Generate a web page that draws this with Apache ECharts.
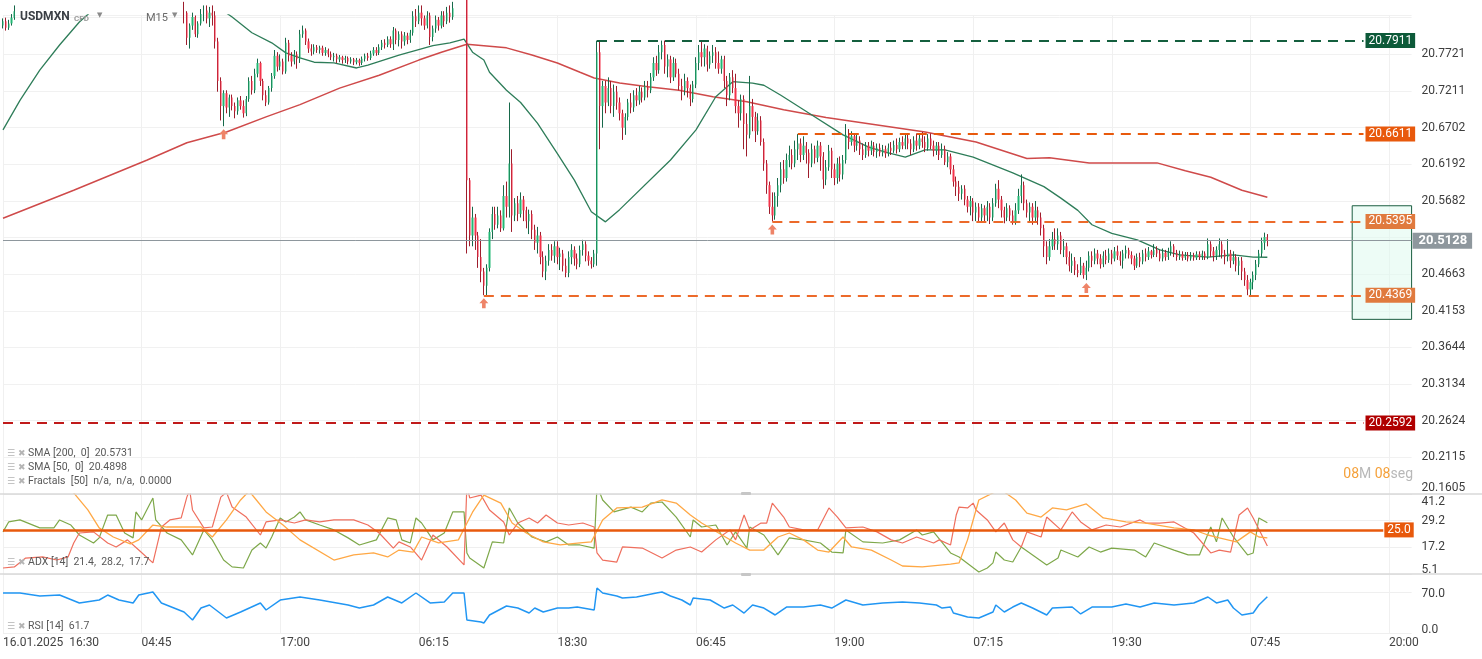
<!DOCTYPE html>
<html>
<head>
<meta charset="utf-8">
<title>USDMXN M15</title>
<script src="https://cdn.jsdelivr.net/npm/echarts@6/dist/echarts.min.js"></script>
<style>
  html, body { margin: 0; padding: 0; background: #fff; }
  #chart { width: 1482px; height: 659px; }
</style>
</head>
<body>
<div id="chart"></div>
<script>
// x axis: one label every 49 bars
const timeLabels = ["16.01.2025  16:30", "04:45", "17:00", "06:15", "18:30", "06:45", "19:00", "07:15", "19:30", "07:45", "20:00"];
const BARS_PER_LABEL = 49;
const CATEGORY_COUNT = 499;

// axis ticks
const priceTicks = [20.1605, 20.2115, 20.2624, 20.3134, 20.3644, 20.4153, 20.4663, 20.5682, 20.6192, 20.6702, 20.7211, 20.7721];
const PRICE_MIN = 20.1605, PRICE_MAX = 20.8267;
const adxTicks = [5.1, 17.2, 29.2, 41.2];
const rsiTicks = [0, 70];

// candles: [open, close, low, high]
const sessionA = [
  [20.812,20.818,20.808,20.822],[20.818,20.809,20.805,20.823],[20.809,20.815,20.806,20.820],[20.815,20.823,20.812,20.828],
  [20.823,20.832,20.820,20.840],[20.832,20.850,20.828,20.856],[20.850,20.868,20.846,20.874],[20.868,20.880,20.860,20.888],
  [20.880,20.872,20.866,20.890],[20.872,20.895,20.868,20.902],[20.895,20.910,20.888,20.918],[20.910,20.902,20.894,20.920],
  [20.902,20.925,20.898,20.932],[20.925,20.940,20.918,20.948],[20.940,20.932,20.925,20.950],[20.932,20.950,20.928,20.958],
  [20.950,20.962,20.942,20.970],[20.962,20.955,20.946,20.972],[20.955,20.968,20.950,20.976],[20.968,20.960,20.952,20.978],
  [20.960,20.972,20.955,20.980],[20.972,20.958,20.950,20.978],[20.958,20.945,20.938,20.965],[20.945,20.955,20.940,20.962],
  [20.955,20.940,20.932,20.960],[20.940,20.928,20.920,20.946],[20.928,20.936,20.922,20.942],[20.936,20.924,20.915,20.940],
  [20.924,20.915,20.908,20.930],[20.915,20.922,20.910,20.928],[20.922,20.910,20.902,20.926],[20.910,20.918,20.905,20.924],
  [20.918,20.906,20.900,20.922],[20.906,20.898,20.892,20.912],[20.898,20.905,20.890,20.910],[20.905,20.895,20.888,20.910],
  [20.895,20.902,20.890,20.908],[20.902,20.890,20.884,20.906],[20.890,20.898,20.885,20.904],[20.898,20.888,20.880,20.902],
  [20.888,20.880,20.874,20.894],[20.880,20.890,20.876,20.896],[20.890,20.882,20.875,20.895],[20.882,20.875,20.868,20.888],
  [20.875,20.884,20.870,20.890],[20.884,20.876,20.870,20.888],[20.876,20.868,20.862,20.880],[20.868,20.878,20.864,20.884],
  [20.878,20.870,20.864,20.882],[20.870,20.862,20.856,20.876],[20.862,20.872,20.858,20.878],[20.872,20.865,20.858,20.876],
  [20.865,20.858,20.852,20.870],[20.858,20.866,20.852,20.872],[20.866,20.858,20.850,20.870],[20.858,20.850,20.845,20.862],
  [20.850,20.858,20.846,20.864],[20.858,20.852,20.846,20.862],[20.852,20.846,20.840,20.856],[20.846,20.852,20.840,20.858],
  [20.852,20.845,20.838,20.856],[20.845,20.850,20.838,20.855],[20.850,20.842,20.836,20.854],[20.842,20.835,20.830,20.848]
];
const sessionB = [
  [20.835,20.830,20.815,20.845],[20.830,20.795,20.785,20.832],[20.795,20.812,20.780,20.815],[20.812,20.824,20.806,20.830],
  [20.824,20.800,20.796,20.826],[20.800,20.815,20.795,20.818],[20.815,20.828,20.812,20.835],[20.828,20.833,20.818,20.840],
  [20.833,20.822,20.815,20.840],[20.822,20.830,20.810,20.838],[20.830,20.826,20.812,20.840],[20.826,20.790,20.780,20.832],
  [20.790,20.735,20.720,20.795],[20.735,20.700,20.680,20.740],[20.700,20.718,20.672,20.722],[20.718,20.698,20.690,20.722],
  [20.698,20.712,20.685,20.716],[20.712,20.700,20.694,20.716],[20.700,20.693,20.683,20.705],[20.693,20.708,20.688,20.712],
  [20.708,20.700,20.695,20.714],[20.700,20.690,20.684,20.708],[20.690,20.710,20.686,20.714],[20.710,20.735,20.706,20.740],
  [20.735,20.722,20.716,20.742],[20.722,20.745,20.718,20.752],[20.745,20.760,20.740,20.766],[20.760,20.735,20.728,20.762],
  [20.735,20.715,20.708,20.738],[20.715,20.705,20.700,20.722],[20.705,20.725,20.702,20.728],[20.725,20.742,20.720,20.746],
  [20.742,20.770,20.738,20.778],[20.770,20.755,20.748,20.775],[20.755,20.762,20.750,20.772],[20.762,20.748,20.744,20.766],
  [20.748,20.788,20.745,20.795],[20.788,20.770,20.762,20.792],[20.770,20.762,20.755,20.775],[20.762,20.772,20.758,20.778],
  [20.772,20.765,20.752,20.776],[20.765,20.800,20.760,20.806],[20.800,20.805,20.795,20.812],[20.805,20.790,20.785,20.808],
  [20.790,20.780,20.774,20.794],[20.780,20.776,20.770,20.786],[20.776,20.782,20.772,20.786],[20.782,20.778,20.774,20.785],
  [20.778,20.781,20.773,20.784],[20.781,20.774,20.770,20.784],[20.774,20.778,20.770,20.782],[20.778,20.772,20.768,20.780],
  [20.772,20.768,20.764,20.776],[20.768,20.770,20.762,20.774],[20.770,20.765,20.760,20.773],[20.765,20.768,20.761,20.771],
  [20.768,20.764,20.759,20.770],[20.764,20.767,20.760,20.770],[20.767,20.762,20.758,20.769],[20.762,20.765,20.759,20.768],
  [20.765,20.761,20.757,20.767],[20.761,20.764,20.758,20.767],[20.764,20.760,20.756,20.766],[20.760,20.766,20.757,20.769],
  [20.766,20.770,20.762,20.773],[20.770,20.767,20.763,20.774],[20.767,20.773,20.764,20.777],[20.773,20.778,20.770,20.782],
  [20.778,20.774,20.770,20.782],[20.774,20.782,20.771,20.786],[20.782,20.788,20.778,20.792],[20.788,20.785,20.780,20.793],
  [20.785,20.793,20.782,20.797],[20.793,20.786,20.781,20.797],[20.786,20.805,20.778,20.810],[20.805,20.792,20.786,20.808],
  [20.792,20.800,20.783,20.804],[20.800,20.790,20.780,20.804],[20.790,20.798,20.784,20.803],[20.798,20.792,20.786,20.802],
  [20.792,20.802,20.788,20.806],[20.802,20.825,20.798,20.832],[20.825,20.818,20.810,20.835],[20.818,20.830,20.814,20.840],
  [20.830,20.822,20.812,20.840],[20.822,20.812,20.806,20.826],[20.812,20.826,20.808,20.832],[20.826,20.796,20.785,20.830],
  [20.796,20.808,20.790,20.812],[20.808,20.820,20.802,20.826],[20.820,20.812,20.805,20.824],[20.812,20.826,20.808,20.832],
  [20.826,20.818,20.810,20.832],[20.818,20.830,20.814,20.838],[20.830,20.824,20.816,20.840],[20.824,20.836,20.820,20.845],
  [20.836,20.845,20.828,20.855],[20.845,20.850,20.835,20.860],[20.850,20.842,20.832,20.858],[20.842,20.848,20.835,20.856]
];
const sessionC = [
  [20.848,20.597,20.495,20.852],[20.597,20.520,20.505,20.600],[20.520,20.545,20.505,20.560],[20.545,20.520,20.500,20.550],
  [20.520,20.490,20.475,20.525],[20.490,20.470,20.455,20.515],[20.470,20.450,20.437,20.475],[20.450,20.475,20.437,20.480],
  [20.475,20.525,20.470,20.530],[20.525,20.550,20.515,20.560],[20.550,20.535,20.528,20.560],[20.535,20.548,20.530,20.560],
  [20.548,20.530,20.525,20.555],[20.530,20.575,20.527,20.590],[20.575,20.560,20.545,20.595],[20.560,20.620,20.545,20.705],
  [20.620,20.548,20.525,20.640],[20.548,20.565,20.540,20.572],[20.565,20.550,20.540,20.575],[20.550,20.570,20.545,20.580],
  [20.570,20.555,20.540,20.575],[20.555,20.540,20.530,20.560],[20.540,20.550,20.522,20.556],[20.550,20.528,20.515,20.555],
  [20.528,20.510,20.500,20.535],[20.510,20.520,20.495,20.532],[20.520,20.490,20.480,20.525],[20.490,20.470,20.462,20.498],
  [20.470,20.485,20.458,20.492],[20.485,20.500,20.478,20.508],[20.500,20.492,20.485,20.508],[20.492,20.505,20.482,20.512],
  [20.505,20.490,20.480,20.512],[20.490,20.495,20.472,20.503],[20.495,20.478,20.470,20.500],[20.478,20.468,20.462,20.488],
  [20.468,20.490,20.462,20.498],[20.490,20.500,20.480,20.508],[20.500,20.488,20.478,20.505],[20.488,20.480,20.473,20.495],
  [20.480,20.500,20.476,20.506],[20.500,20.508,20.492,20.514],[20.508,20.492,20.484,20.512],[20.492,20.485,20.478,20.498],
  [20.485,20.480,20.474,20.490],[20.480,20.495,20.476,20.500]
];
const sessionD = [
  [20.495,20.775,20.478,20.7911],[20.775,20.700,20.640,20.790],[20.700,20.728,20.670,20.735],[20.728,20.705,20.690,20.735],
  [20.705,20.725,20.700,20.740],[20.725,20.700,20.690,20.735],[20.700,20.720,20.685,20.730],[20.720,20.705,20.695,20.728],
  [20.705,20.690,20.680,20.712],[20.690,20.670,20.653,20.695],[20.670,20.685,20.660,20.690],[20.685,20.705,20.680,20.710],
  [20.705,20.698,20.690,20.718],[20.698,20.715,20.692,20.722],[20.715,20.708,20.700,20.725],[20.708,20.720,20.702,20.728],
  [20.720,20.712,20.705,20.726],[20.712,20.728,20.708,20.735],[20.728,20.722,20.712,20.735],[20.722,20.740,20.718,20.746],
  [20.740,20.760,20.735,20.768],[20.760,20.750,20.742,20.770],[20.750,20.775,20.745,20.785],[20.775,20.785,20.765,20.7911],
  [20.785,20.755,20.745,20.7911],[20.755,20.765,20.740,20.772],[20.765,20.740,20.732,20.770],[20.740,20.760,20.735,20.768],
  [20.760,20.745,20.740,20.766],[20.745,20.728,20.722,20.752],[20.728,20.722,20.708,20.738],[20.722,20.735,20.715,20.745],
  [20.735,20.725,20.712,20.740],[20.725,20.710,20.700,20.730],[20.710,20.730,20.705,20.735],[20.730,20.760,20.725,20.768],
  [20.760,20.775,20.750,20.785],[20.775,20.768,20.755,20.7911],[20.768,20.780,20.755,20.786],[20.780,20.758,20.748,20.784],
  [20.758,20.770,20.752,20.776],[20.770,20.775,20.760,20.785],[20.775,20.760,20.752,20.782],[20.760,20.752,20.745,20.776],
  [20.752,20.765,20.745,20.770],[20.765,20.735,20.725,20.770],[20.735,20.715,20.700,20.742],[20.715,20.740,20.708,20.746],
  [20.740,20.725,20.718,20.750],[20.725,20.700,20.690,20.745],[20.700,20.690,20.670,20.708],[20.690,20.710,20.680,20.716],
  [20.710,20.675,20.640,20.715],[20.675,20.660,20.630,20.690],[20.660,20.700,20.655,20.742],[20.700,20.685,20.665,20.710],
  [20.685,20.665,20.650,20.692],[20.665,20.680,20.660,20.690],[20.680,20.650,20.645,20.686],[20.650,20.620,20.610,20.655],
  [20.620,20.590,20.578,20.625],[20.590,20.560,20.550,20.595]
];
const sessionE = [
  [20.560,20.548,20.5395,20.580],[20.548,20.575,20.542,20.580],[20.575,20.590,20.560,20.600],[20.590,20.612,20.580,20.622],
  [20.612,20.600,20.592,20.625],[20.600,20.625,20.595,20.634],[20.625,20.632,20.615,20.645],[20.632,20.620,20.612,20.640],
  [20.620,20.640,20.615,20.652],[20.640,20.648,20.625,20.6611],[20.648,20.632,20.622,20.655],[20.632,20.645,20.625,20.658],
  [20.645,20.635,20.620,20.650],[20.635,20.620,20.600,20.640],[20.620,20.640,20.615,20.648],[20.640,20.628,20.620,20.645],
  [20.628,20.645,20.622,20.652],[20.645,20.630,20.610,20.650],[20.630,20.598,20.585,20.636],[20.598,20.615,20.590,20.625],
  [20.615,20.638,20.610,20.646],[20.638,20.612,20.600,20.642],[20.612,20.600,20.590,20.620],[20.600,20.620,20.592,20.628],
  [20.620,20.605,20.595,20.630],[20.605,20.625,20.598,20.632],[20.625,20.660,20.620,20.675],[20.660,20.650,20.640,20.668],
  [20.650,20.658,20.645,20.665],[20.658,20.645,20.636,20.662],[20.645,20.652,20.638,20.660],[20.652,20.640,20.632,20.658],
  [20.640,20.632,20.625,20.648],[20.632,20.645,20.628,20.650],[20.645,20.638,20.630,20.650],[20.638,20.645,20.632,20.652],
  [20.645,20.636,20.630,20.650],[20.636,20.642,20.628,20.648],[20.642,20.635,20.630,20.648],[20.635,20.640,20.630,20.646],
  [20.640,20.634,20.628,20.645],[20.634,20.642,20.630,20.648],[20.642,20.638,20.632,20.650],[20.638,20.646,20.635,20.652],
  [20.646,20.640,20.634,20.655],[20.640,20.650,20.636,20.656],[20.650,20.645,20.640,20.658],[20.645,20.655,20.640,20.660],
  [20.655,20.648,20.640,20.662],[20.648,20.640,20.632,20.654],[20.640,20.652,20.636,20.658],[20.652,20.645,20.638,20.662],
  [20.645,20.655,20.640,20.662],[20.655,20.650,20.642,20.664],[20.650,20.642,20.636,20.658],[20.642,20.655,20.638,20.661],
  [20.655,20.645,20.640,20.662],[20.645,20.638,20.630,20.652],[20.638,20.645,20.632,20.650],[20.645,20.632,20.625,20.650],
  [20.632,20.640,20.628,20.648],[20.640,20.622,20.618,20.645],[20.622,20.630,20.615,20.636],[20.630,20.612,20.605,20.634],
  [20.612,20.595,20.588,20.618],[20.595,20.588,20.575,20.602],[20.588,20.578,20.568,20.596],[20.578,20.585,20.570,20.590],
  [20.585,20.570,20.562,20.590],[20.570,20.560,20.552,20.575],[20.560,20.568,20.548,20.575],[20.568,20.552,20.540,20.572],
  [20.552,20.560,20.540,20.566],[20.560,20.545,20.538,20.565],[20.545,20.558,20.540,20.564],[20.558,20.548,20.538,20.562],
  [20.548,20.560,20.540,20.568],[20.560,20.545,20.536,20.565],[20.545,20.565,20.540,20.572],[20.565,20.585,20.560,20.592],
  [20.585,20.570,20.558,20.597],[20.570,20.555,20.545,20.575],[20.555,20.545,20.537,20.560],[20.545,20.558,20.540,20.565],
  [20.558,20.548,20.540,20.562],[20.548,20.540,20.535,20.555],[20.540,20.555,20.535,20.565],[20.555,20.575,20.550,20.585],
  [20.575,20.590,20.565,20.605],[20.590,20.565,20.555,20.595],[20.565,20.552,20.545,20.570],[20.552,20.560,20.540,20.566],
  [20.560,20.545,20.535,20.565],[20.545,20.555,20.538,20.568],[20.555,20.545,20.535,20.560],[20.545,20.530,20.520,20.552],
  [20.530,20.505,20.490,20.535],[20.505,20.490,20.480,20.512],[20.490,20.505,20.485,20.515],[20.505,20.515,20.500,20.525],
  [20.515,20.508,20.500,20.530],[20.508,20.520,20.500,20.530],[20.520,20.500,20.494,20.525],[20.500,20.505,20.490,20.515],
  [20.505,20.490,20.480,20.510],[20.490,20.478,20.470,20.498],[20.478,20.485,20.468,20.495],[20.485,20.472,20.465,20.490],
  [20.472,20.468,20.462,20.480],[20.468,20.478,20.465,20.490],[20.478,20.465,20.460,20.482],[20.465,20.475,20.458,20.485],
  [20.475,20.492,20.470,20.498],[20.492,20.485,20.476,20.498],[20.485,20.495,20.480,20.502],[20.495,20.488,20.480,20.500],
  [20.488,20.480,20.474,20.494],[20.480,20.492,20.476,20.498],[20.492,20.486,20.480,20.500],[20.486,20.495,20.482,20.502],
  [20.495,20.488,20.480,20.500],[20.488,20.498,20.484,20.504],[20.498,20.492,20.486,20.506],[20.492,20.485,20.478,20.498],
  [20.485,20.495,20.474,20.500],[20.495,20.500,20.488,20.506],[20.500,20.493,20.488,20.503],[20.493,20.488,20.480,20.498],
  [20.488,20.478,20.472,20.492],[20.478,20.490,20.475,20.495],[20.490,20.484,20.476,20.496],[20.484,20.495,20.480,20.500],
  [20.495,20.490,20.484,20.502],[20.490,20.498,20.486,20.504],[20.498,20.493,20.488,20.500],[20.493,20.500,20.490,20.508],
  [20.500,20.495,20.490,20.505],[20.495,20.488,20.484,20.500],[20.488,20.496,20.484,20.502],[20.496,20.490,20.485,20.500],
  [20.490,20.497,20.486,20.503],[20.497,20.505,20.492,20.512],[20.505,20.496,20.490,20.508],[20.496,20.490,20.485,20.500],
  [20.490,20.494,20.486,20.499],[20.494,20.489,20.485,20.498],[20.489,20.493,20.486,20.497],[20.493,20.488,20.484,20.497],
  [20.488,20.493,20.485,20.497],[20.493,20.489,20.485,20.496],[20.489,20.494,20.486,20.498],[20.494,20.490,20.486,20.498],
  [20.490,20.495,20.486,20.499],[20.495,20.490,20.486,20.498],[20.490,20.508,20.487,20.516],[20.508,20.498,20.490,20.512],
  [20.498,20.492,20.484,20.504],[20.492,20.500,20.486,20.505],[20.500,20.508,20.490,20.516],[20.508,20.495,20.488,20.512],
  [20.495,20.490,20.480,20.500],[20.490,20.495,20.484,20.515],[20.495,20.485,20.475,20.500],[20.485,20.490,20.480,20.498],
  [20.490,20.478,20.470,20.494],[20.478,20.485,20.465,20.490],[20.485,20.470,20.458,20.490],[20.470,20.458,20.450,20.475],
  [20.458,20.445,20.437,20.465],[20.445,20.455,20.437,20.460],[20.455,20.465,20.445,20.470],[20.465,20.480,20.458,20.486],
  [20.480,20.495,20.476,20.500],[20.495,20.510,20.490,20.517],[20.510,20.518,20.500,20.524],[20.518,20.5128,20.505,20.522]
];

// moving averages: [bar, value]
const sma200 = [[0,20.544],[25,20.583],[51,20.625],[65,20.649],[79,20.664],[93,20.685],[105,20.702],[119,20.725],[133,20.743],
  [147,20.764],[155,20.775],[164,20.786],[178,20.781],[187,20.771],[196,20.760],[204,20.747],[209,20.739],[218,20.732],[228,20.727],
  [239,20.722],[251,20.713],[263,20.706],[276,20.695],[291,20.684],[326,20.664],[344,20.650],[362,20.627],[370,20.628],[384,20.621],
  [408,20.621],[418,20.610],[427,20.601],[438,20.583],[447,20.5731]];
const sma50 = [[0,20.667],[6,20.708],[13,20.750],[20,20.785],[27,20.817],[31,20.831],[40,20.850],[55,20.862],[70,20.845],[78,20.832],
  [81,20.824],[88,20.802],[95,20.788],[100,20.774],[105,20.767],[110,20.761],[117,20.760],[125,20.753],[129,20.757],[140,20.771],
  [152,20.784],[158,20.788],[163,20.793],[166,20.775],[170,20.764],[172,20.747],[178,20.722],[183,20.705],[189,20.676],[196,20.634],
  [202,20.597],[208,20.553],[213,20.539],[218,20.556],[236,20.625],[245,20.667],[252,20.713],[258,20.734],[265,20.732],[269,20.729],
  [275,20.715],[285,20.690],[297,20.660],[306,20.643],[312,20.636],[319,20.629],[326,20.639],[333,20.639],[343,20.629],[357,20.607],
  [368,20.588],[374,20.572],[380,20.555],[385,20.535],[392,20.523],[401,20.514],[409,20.500],[416,20.493],[426,20.490],[435,20.493],
  [442,20.490],[447,20.4898]];

// ADX [14]: adx (orange), +DI (green), -DI (red)
const adxLine = [[0,55],[15,50],[22,44],[25,41.7],[30,34.0],[34,25.9],[39,21.8],[45,18.7],[48,20.5],[53,27.2],[58,26.3],[70,26.3],
  [74,21.8],[79,29.5],[84,38.5],[87,42.5],[89,39.4],[93,33.1],[99,27.2],[105,20.5],[117,11.4],[124,13.7],[131,14.6],[136,12.8],
  [140,15.9],[145,15.0],[148,21.8],[154,19.1],[161,20.5],[164,28],[166,33],[170,40.7],[176,37.1],[180,28.1],[185,23.6],[191,19.6],
  [197,18.2],[204,19.1],[208,19.6],[212,29.5],[217,34.9],[226,35.3],[233,38.5],[238,37.1],[243,31.7],[247,28.1],[253,23.6],[259,19.1],
  [264,15.9],[269,15.9],[274,21.8],[278,23.6],[283,20.5],[288,15.9],[292,15.0],[297,21.8],[300,17.3],[307,15.9],[314,11.4],[318,8.7],
  [325,8.3],[335,9.6],[338,10.1],[341,20.5],[345,38.5],[350,41.7],[353,43],[358,38.5],[362,32.6],[367,30.8],[371,34.9],[376,34.0],
  [383,36.7],[389,30.4],[397,28.6],[404,28.1],[414,25.9],[421,25.0],[426,22.7],[430,21.4],[436,19.6],[441,24.1],[444,21.8],[447,21.4]];
const plusDi = [[0,24.1],[2,28.6],[6,29.5],[13,25.9],[18,25.9],[20,29.5],[24,27.2],[27,22.7],[32,19.1],[34,21.4],[37,31.7],[40,31.7],
  [43,23.6],[46,21.4],[47,33.1],[49,29.5],[53,39.4],[54,29.5],[58,23.6],[63,20.5],[67,13.7],[71,25.0],[74,20.5],[78,11.4],[81,8.3],
  [85,7.8],[88,15.9],[91,19.1],[93,16.8],[95,21.8],[98,30.4],[100,28.6],[103,30.8],[105,33.1],[107,29.5],[112,27.2],[117,25.0],
  [122,21.4],[126,18.2],[132,20.5],[136,30.4],[139,29.5],[141,20.5],[144,19.1],[146,30.4],[148,28.1],[152,20.5],[156,23.6],[159,33.1],
  [163,33.1],[164,14.6],[165,12.3],[170,7.8],[173,19.6],[177,19.1],[179,34.9],[182,28.1],[187,21.8],[192,19.6],[196,21.8],[200,18.2],
  [204,18.2],[209,16.8],[210,45],[212,38.5],[216,33.1],[222,35.3],[226,33.1],[229,37.1],[233,37.6],[238,30.8],[243,21.8],[244,29.5],
  [247,26.3],[252,27.2],[256,18.2],[259,24.1],[263,16.8],[264,26.3],[269,22.7],[274,13.7],[278,21.4],[283,20.5],[289,19.1],[293,15.0],
  [297,14.6],[298,25.0],[304,19.6],[311,19.1],[317,20.5],[323,25.0],[325,22.7],[329,24.1],[335,14.6],[338,12.8],[345,6.0],[348,7.8],
  [350,10.1],[351,15.0],[354,11.4],[357,10.5],[360,17.3],[363,14.6],[369,9.2],[373,12.3],[374,15.9],[380,12.8],[384,17.3],[388,15.0],
  [392,16.8],[400,15.9],[404,12.8],[407,19.1],[414,15.9],[419,13.7],[423,13.7],[427,26.3],[429,19.6],[431,30.4],[435,21.8],[440,13.7],
  [442,14.6],[444,30.4],[447,28.2]];
const minusDi = [[0,7.8],[4,8.3],[8,12.3],[14,12.8],[19,11.4],[23,12.8],[25,19.1],[27,23.6],[32,24.1],[37,19.1],[40,17.3],[44,20.5],
  [48,15.9],[53,10.1],[56,26.3],[59,29.5],[63,30.4],[65,39.8],[66,43],[67,34.0],[71,25.9],[74,26.3],[77,39.8],[79,42],[81,35.3],
  [86,30.8],[91,22.7],[93,28.6],[98,29.5],[103,28.1],[107,29.5],[112,28.6],[117,29.5],[124,29.5],[129,27.2],[133,23.6],[138,16.8],
  [140,19.6],[144,17.3],[148,11.4],[152,22.7],[157,17.3],[163,9.2],[164,45],[165,39.4],[169,40.7],[172,34.0],[177,28.6],[179,22.7],
  [182,28.1],[186,30.4],[189,28.1],[192,31.7],[196,28.1],[200,27.2],[205,28.1],[209,26.3],[210,14.6],[212,11.4],[217,10.5],[219,17.3],
  [226,16.8],[233,12.3],[238,15.9],[243,17.3],[247,15.0],[252,20.5],[257,25.0],[259,20.5],[262,31.7],[264,25.0],[268,28.1],[270,28.1],
  [272,37.1],[276,30.8],[278,26.3],[283,25.0],[288,25.0],[292,34.9],[295,30.8],[298,25.9],[304,26.3],[309,24.1],[314,20.5],[318,19.1],
  [323,21.8],[329,19.1],[331,20.5],[335,18.2],[337,31.7],[338,35.3],[341,34.9],[343,37.1],[344,34.0],[348,29.5],[351,24.1],[354,28.1],
  [357,20.5],[360,17.3],[362,24.1],[367,21.8],[369,30.8],[374,25.0],[378,33.1],[381,28.6],[385,25.0],[390,27.2],[395,26.3],[402,29.5],
  [404,28.1],[409,28.1],[414,28.6],[421,23.6],[427,14.6],[430,15.9],[434,15.0],[437,31.7],[440,34.9],[442,30.4],[447,17.7]];
const ADX_LEVEL = 25;

// RSI [14]
const rsiLine = [[0,68.0],[6,68.0],[13,63.0],[20,64.6],[27,51.2],[34,56.2],[37,64.6],[41,56.2],[46,51.2],[48,64.6],[53,69.7],[56,51.2],
  [64,36.0],[67,22.6],[70,42.7],[73,47.8],[79,25.9],[84,36.0],[91,51.2],[93,39.4],[98,56.2],[105,61.3],[112,56.2],[122,47.8],[126,42.7],
  [131,47.8],[136,61.3],[141,51.2],[146,68.0],[151,51.2],[156,52.9],[159,68.0],[163,68.0],[164,22.6],[169,19.2],[170,17.5],[172,31.0],
  [178,46.1],[182,42.7],[186,34.3],[188,42.7],[191,36.0],[196,42.7],[200,42.7],[203,44.4],[209,39.4],[210,76.4],[212,68.0],[217,63.0],
  [219,59.6],[224,61.3],[231,68.0],[233,69.7],[236,63.0],[240,56.2],[243,47.8],[244,59.6],[250,56.2],[255,42.7],[258,47.8],[262,34.3],
  [265,47.8],[269,42.7],[273,31.0],[277,44.4],[283,44.4],[289,47.8],[293,42.7],[298,56.2],[304,47.8],[311,51.2],[318,52.9],[324,51.2],
  [330,47.8],[332,42.7],[335,44.4],[336,34.3],[341,27.6],[345,25.9],[350,36.0],[351,47.8],[354,36.0],[357,44.4],[360,51.2],[364,42.7],
  [369,31.0],[371,42.7],[378,44.4],[381,32.7],[385,44.4],[392,44.4],[397,49.5],[402,44.4],[407,51.2],[414,47.8],[421,51.2],[426,61.3],
  [429,51.2],[433,56.2],[435,42.7],[438,31.0],[442,34.3],[444,47.8],[447,61.7]];

// horizontal levels and fractal lows
const levelPrices = [20.7911, 20.6611, 20.5395, 20.4369, 20.2592];
const levelStartBars = [210, 281, 272, 170, 0];
const fractalBars = [78, 170, 272, 383];
const orderBox = { from: 477, top: 20.5614, bottom: 20.4034 };

// ---- build ----
const candles = sessionA.concat(sessionB, sessionC, sessionD, sessionE);
const bodies = candles.map(d => [d[0], d[1], Math.min(d[0], d[1]), Math.max(d[0], d[1])]);
const lastPrice = candles[candles.length - 1][1];
const categories = Array.from({ length: CATEGORY_COUNT }, (_, i) =>
  i % BARS_PER_LABEL === 0 ? (timeLabels[i / BARS_PER_LABEL] || '') : '');
const LAST_BAR = CATEGORY_COUNT - 1;
const LEVEL_END_BAR = 481;

const levelLineColors = ['#145f3e', '#e8590c', '#ec6a2a', '#ec6a2a', '#c01a1a'];
const levelBoxColors = ['#0d5a39', '#e8590c', '#e07a3e', '#e07a3e', '#b00000'];
const FONT = 'Roboto';

const chart = echarts.init(document.getElementById('chart'), null, { renderer: 'canvas' });

const xAxisBase = (grid, showLabel) => ({
  type: 'category', gridIndex: grid, data: categories, boundaryGap: false,
  axisTick: { show: false },
  axisLine: { show: false },
  axisLabel: showLabel ? {
    show: true, interval: BARS_PER_LABEL - 1, align: 'left', margin: 4,
    color: '#444', fontSize: 12, fontFamily: FONT
  } : { show: false },
  splitLine: { show: true, interval: BARS_PER_LABEL - 1, lineStyle: { color: '#f0f0f0', width: 1 } }
});

const yLabel = (ticks, digits, shifts) => ({
  customValues: ticks, margin: 10, color: '#3d3d3d', fontSize: 12, fontFamily: FONT,
  formatter: v => {
    const t = v.toFixed(digits);
    if (shifts.lo !== undefined && Math.abs(v - shifts.lo) < 1e-9) return '{lo|' + t + '}';
    if (shifts.hi !== undefined && Math.abs(v - shifts.hi) < 1e-9) return '{hi|' + t + '}';
    return t;
  },
  rich: {
    lo: { padding: [0, 0, shifts.loPad || 0, 0], color: '#3d3d3d', fontSize: 12, fontFamily: FONT },
    hi: { padding: [shifts.hiPad || 0, 0, 0, 0], color: '#3d3d3d', fontSize: 12, fontFamily: FONT }
  }
});

const levelMarks = levelPrices.map((p, k) => [
  { coord: [levelStartBars[k], p], name: p.toFixed(4),
    lineStyle: { color: levelLineColors[k] }, label: { backgroundColor: levelBoxColors[k] } },
  { coord: [LEVEL_END_BAR, p] }
]);
levelMarks.push([
  { coord: [0, lastPrice], name: lastPrice.toFixed(4),
    lineStyle: { type: 'solid', width: 1, color: '#8e979d' },
    label: { backgroundColor: '#8e979d', fontWeight: 'bold', fontSize: 13, padding: [2, 5, 1, 6], distance: 1 } },
  { coord: [LAST_BAR, lastPrice] }
]);

const legendRow = (text, top) => ({
  type: 'text', left: 7, top: top, z: 100,
  style: {
    text: '{i|☰ ✖} ' + text, fill: '#585858', fontSize: 10.5, fontFamily: FONT,
    rich: { i: { fill: '#b4b4b4', fontSize: 9, fontFamily: 'DejaVu Sans' } }
  }
});

chart.setOption({
  animation: false,
  backgroundColor: '#ffffff',
  grid: [
    { left: 3, width: 1408.6, top: 15, height: 479 },
    { left: 3, width: 1408.6, top: 494, height: 80 },
    { left: 3, width: 1408.6, top: 574, height: 59.4 }
  ],
  xAxis: [xAxisBase(0, false), xAxisBase(1, false), xAxisBase(2, true)],
  yAxis: [
    { gridIndex: 0, type: 'value', position: 'right', min: PRICE_MIN, max: PRICE_MAX,
      interval: (priceTicks[priceTicks.length - 1] - priceTicks[0]) / 12,
      axisLine: { show: false }, axisTick: { show: false },
      splitLine: { lineStyle: { color: '#f1f1f1' } },
      axisLabel: yLabel(priceTicks, 4, { lo: priceTicks[0], loPad: 12 }) },
    { gridIndex: 1, type: 'value', position: 'right', min: adxTicks[0], max: adxTicks[3],
      interval: (adxTicks[3] - adxTicks[0]) / 3,
      axisLine: { show: false }, axisTick: { show: false },
      splitLine: { lineStyle: { color: '#efefef' } },
      axisLabel: yLabel(adxTicks, 1, { lo: adxTicks[0], loPad: 8, hi: adxTicks[3], hiPad: 16 }) },
    { gridIndex: 2, type: 'value', position: 'right', min: 0, max: 100, interval: 70,
      axisLine: { show: false }, axisTick: { show: false },
      splitLine: { lineStyle: { color: '#efefef' } },
      axisLabel: yLabel(rsiTicks, 1, { lo: 0, loPad: 7, hi: 70, hiPad: 5 }) }
  ],
  graphic: [
    { type: 'text', left: 20, top: 11, z: 100, style: { text: 'USDMXN', fill: '#3a3f45', fontSize: 12, fontWeight: 'bold', fontFamily: FONT } },
    { type: 'text', left: 74, top: 15, z: 100, style: { text: 'CFD', fill: '#9a9a9a', fontSize: 8, fontWeight: 'bold', fontFamily: FONT } },
    { type: 'text', left: 97, top: 12, z: 100, style: { text: '▼', fill: '#8a8a8a', fontSize: 7, fontFamily: 'DejaVu Sans' } },
    { type: 'text', left: 146, top: 13, z: 100, style: { text: 'M15', fill: '#6a6a6a', fontSize: 11, fontFamily: FONT } },
    { type: 'text', left: 172, top: 12, z: 100, style: { text: '▼', fill: '#8a8a8a', fontSize: 7, fontFamily: 'DejaVu Sans' } },
    legendRow('SMA [200,  0]  20.5731', 448),
    legendRow('SMA [50,  0]  20.4898', 462),
    legendRow('Fractals  [50]  n/a,  n/a,  0.0000', 476),
    legendRow('ADX [14]  21.4,  28.2,  17.7', 557),
    legendRow('RSI [14]  61.7', 621),
    { type: 'text', right: 69, top: 467, z: 100,
      style: { text: '{o|08}{g|M }{o|08}{g|seg}', fontSize: 14, fontFamily: FONT,
        rich: { o: { fill: '#f5a13a', fontSize: 14, fontFamily: FONT }, g: { fill: '#b8b8b8', fontSize: 14, fontFamily: FONT } } } },
    { type: 'line', z: 90, shape: { x1: 0, y1: 494, x2: 1482, y2: 494 }, style: { stroke: '#d8d8d8', lineWidth: 1.5 } },
    { type: 'line', z: 90, shape: { x1: 0, y1: 574, x2: 1482, y2: 574 }, style: { stroke: '#d8d8d8', lineWidth: 1.5 } },
    { type: 'rect', z: 91, shape: { x: 741, y: 492, width: 10, height: 3, r: 1 }, style: { fill: '#c6c6c6' } },
    { type: 'rect', z: 91, shape: { x: 741, y: 573, width: 10, height: 3, r: 1 }, style: { fill: '#c6c6c6' } }
  ],
  series: [
    { name: 'SMA200', type: 'line', xAxisIndex: 0, yAxisIndex: 0, data: sma200, symbol: 'none', clip: true,
      lineStyle: { color: '#cf4a4a', width: 1.5 }, z: 3 },
    { name: 'SMA50', type: 'line', xAxisIndex: 0, yAxisIndex: 0, data: sma50, symbol: 'none', clip: true,
      lineStyle: { color: '#2e7d59', width: 1.3 }, z: 3 },
    { name: 'wicks', type: 'candlestick', xAxisIndex: 0, yAxisIndex: 0, data: candles, barWidth: 1, clip: true,
      itemStyle: { color: '#17694a', color0: '#9e1d2c', borderColor: '#17694a', borderColor0: '#9e1d2c', borderWidth: 1 }, z: 4 },
    { name: 'bodies', type: 'candlestick', xAxisIndex: 0, yAxisIndex: 0, data: bodies, barWidth: 1.8, clip: true,
      itemStyle: { color: '#22b874', color0: '#f4334a', borderColor: '#22b874', borderColor0: '#f4334a', borderWidth: 0 }, z: 5 },
    { name: 'levels', type: 'line', xAxisIndex: 0, yAxisIndex: 0, data: [], clip: false, z: 6,
      markLine: {
        silent: true, symbol: ['none', 'none'],
        lineStyle: { type: [10, 7], width: 2 },
        label: { show: true, position: 'end', distance: 2, formatter: '{b}', color: '#fff',
          fontSize: 12, fontFamily: FONT, padding: [2, 3, 1, 3] },
        data: levelMarks
      },
      markArea: {
        silent: true,
        itemStyle: { color: 'rgba(222,250,238,0.55)', borderColor: '#1b5e40', borderWidth: 1 },
        data: [[{ coord: [orderBox.from, orderBox.top] }, { coord: [LAST_BAR, orderBox.bottom] }]]
      },
      markPoint: {
        silent: true,
        symbol: 'path://M5,0 L10,5 L7,5 L7,10 L3,10 L3,5 L0,5 Z',
        symbolSize: [9, 10], symbolOffset: [0, 8],
        itemStyle: { color: '#ee8468' },
        label: { show: false },
        data: fractalBars.map(i => ({ coord: [i, candles[i][2]] }))
      }
    },
    { name: '+DI', type: 'line', xAxisIndex: 1, yAxisIndex: 1, data: plusDi, symbol: 'none', clip: true,
      lineStyle: { color: '#7ea84a', width: 1.2 } },
    { name: '-DI', type: 'line', xAxisIndex: 1, yAxisIndex: 1, data: minusDi, symbol: 'none', clip: true,
      lineStyle: { color: '#ef6f5e', width: 1.2 } },
    { name: 'ADX', type: 'line', xAxisIndex: 1, yAxisIndex: 1, data: adxLine, symbol: 'none', clip: true,
      lineStyle: { color: '#ffa845', width: 1.3 } },
    { name: 'ADX level', type: 'line', xAxisIndex: 1, yAxisIndex: 1, data: [], clip: false, z: 6,
      markLine: {
        silent: true, symbol: ['none', 'none'],
        lineStyle: { type: 'solid', width: 2.5, color: '#e8590c' },
        label: { show: true, position: 'end', distance: 1, formatter: '{b}', color: '#fff', backgroundColor: '#e8590c',
          fontSize: 12, fontFamily: FONT, padding: [2, 3, 1, 3] },
        data: [[{ coord: [0, ADX_LEVEL], name: ADX_LEVEL.toFixed(1) }, { coord: [488, ADX_LEVEL] }]]
      }
    },
    { name: 'RSI', type: 'line', xAxisIndex: 2, yAxisIndex: 2, data: rsiLine, symbol: 'none', clip: true,
      lineStyle: { color: '#2196f3', width: 1.5 } }
  ]
});
</script>
</body>
</html>
